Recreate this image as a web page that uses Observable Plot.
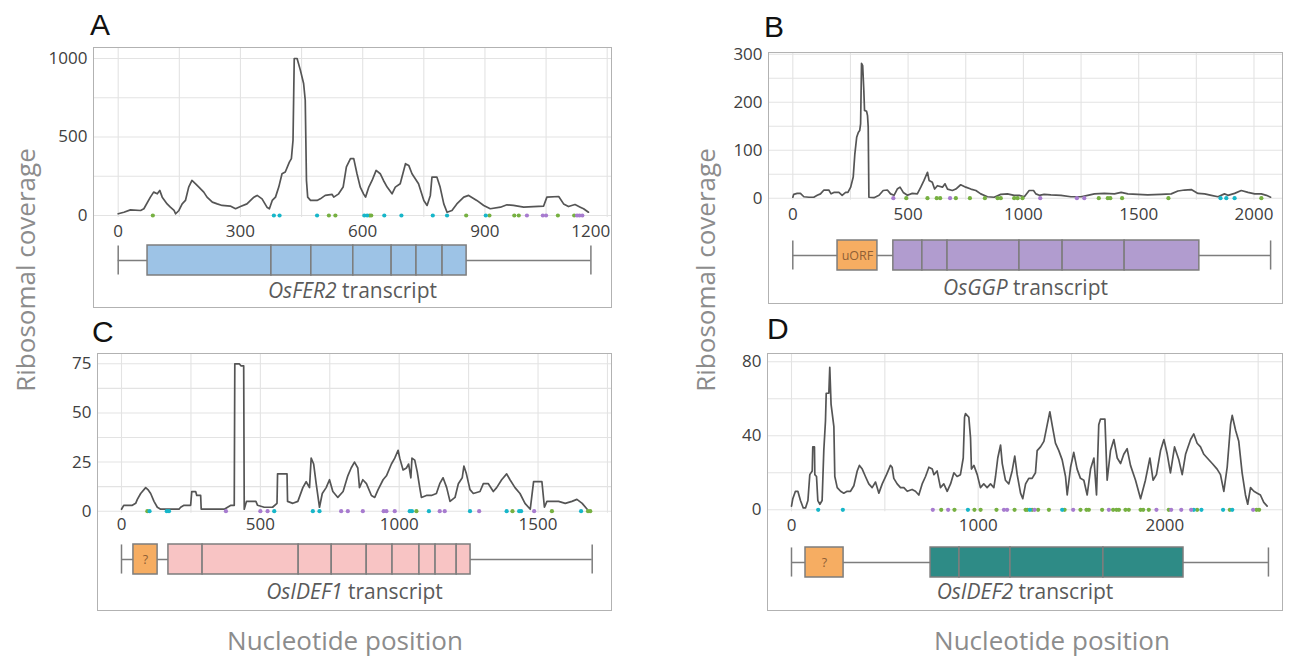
<!DOCTYPE html>
<html><head><meta charset="utf-8">
<script src="https://cdn.jsdelivr.net/npm/d3@7"></script>
<script src="https://cdn.jsdelivr.net/npm/@observablehq/plot@0.6"></script>
<style>
html,body{margin:0;padding:0;background:#fff;}
#root{position:relative;width:1290px;height:658px;overflow:hidden;font-family:"Open Sans",sans-serif;background:#fff;}
.abs{position:absolute;}
.box{position:absolute;border:1.5px solid #b2b2b2;box-sizing:border-box;pointer-events:none;}
.letter{position:absolute;font-family:"Liberation Sans",Arial,sans-serif;font-size:30px;line-height:30px;color:#111;}
.caption{position:absolute;text-align:center;font-size:21px;line-height:21px;color:#5a5a5a;white-space:nowrap;}
.ytitle{position:absolute;font-size:26px;line-height:26px;color:#8c8c8c;white-space:nowrap;transform:translate(-50%,-50%) rotate(-90deg);}
.xtitle{position:absolute;font-size:26px;line-height:26px;color:#8c8c8c;white-space:nowrap;transform:translate(-50%,-50%);}
</style></head>
<body><div id="root"></div>
<script>
// ---------------- DATA ----------------
// Read frames: F1 = green, F2 = cyan, F3 = purple dots
const frames = ["F1", "F2", "F3"];
const frameColors = ["#76b041", "#17b6c9", "#a77bcf"];

// OsFER2 (A)
const fer2Coverage = [[0,11],[14,21],[30,36],[55,32],[63,43],[79,117],[87,149],[96,138],[102,160],[108,117],[120,74],[128,53],[137,32],[141,11],[149,32],[157,74],[165,96],[173,181],[181,223],[190,202],[198,181],[210,149],[218,117],[231,85],[243,74],[255,64],[275,60],[288,43],[300,57],[316,74],[333,117],[341,128],[353,106],[365,53],[371,43],[378,96],[386,117],[394,181],[402,266],[410,277],[420,340],[425,362],[429,479],[432,1000],[439,1000],[447,926],[455,841],[459,734],[462,223],[465,117],[472,96],[488,96],[496,106],[508,128],[525,134],[529,117],[541,138],[552,181],[560,309],[570,362],[578,362],[586,266],[594,181],[602,138],[607,117],[615,181],[623,223],[633,287],[643,266],[651,223],[660,181],[672,138],[680,181],[692,202],[705,330],[713,319],[721,266],[737,202],[750,96],[758,64],[766,128],[770,245],[782,245],[790,181],[799,74],[807,21],[819,32],[831,74],[848,117],[860,128],[880,96],[897,64],[913,43],[938,53],[954,68],[970,64],[995,53],[1019,57],[1044,60],[1052,117],[1081,121],[1093,74],[1105,57],[1121,70],[1134,53],[1142,43],[1154,21]];
const fer2Green = [85,517,533,617,621,854,911,972,983,1079,1119];
const fer2Cyan = [382,396,488,604,611,653,695,772,807,902];
const fer2Purple = [1003,1042,1050,1126,1132,1139];
const fer2Length = 1160;
const fer2Cds = [72,376,474,577,671,732,796,855];
const fer2Uorf = [];

// OsGGP (B)
const ggpCoverage = [[0,2],[4,8],[19,10],[33,10],[48,3],[70,2],[91,2],[106,6],[120,9],[135,17],[156,17],[166,9],[178,12],[200,12],[214,6],[229,12],[239,12],[251,23],[262,44],[269,92],[277,127],[284,137],[290,141],[294,155],[298,281],[303,276],[306,245],[308,224],[311,183],[320,181],[324,172],[327,148],[330,2],[352,1],[374,6],[392,16],[410,17],[424,9],[439,6],[453,19],[465,23],[479,12],[497,6],[518,10],[540,9],[555,23],[569,37],[584,54],[591,37],[605,33],[615,19],[627,26],[649,23],[660,30],[671,19],[692,16],[707,19],[728,28],[750,23],[772,19],[794,16],[815,9],[844,3],[873,2],[902,8],[931,9],[960,6],[982,6],[1004,3],[1025,16],[1044,16],[1054,9],[1069,6],[1090,8],[1119,7],[1163,6],[1206,3],[1250,3],[1279,6],[1308,9],[1351,10],[1395,9],[1424,12],[1453,9],[1496,8],[1539,7],[1597,8],[1641,9],[1670,15],[1699,17],[1728,18],[1757,10],[1786,9],[1815,6],[1844,3],[1872,9],[1887,6],[1916,10],[1945,16],[1974,12],[2003,9],[2032,9],[2054,6],[2072,2]];
const ggpGreen = [492,584,624,639,707,768,833,888,902,960,975,996,1327,1366,1377,1428,1629,2032];
const ggpCyan = [1855,1880,1916];
const ggpPurple = [436,682,1073,1232,1264];
const ggpLength = 2072;
const ggpCds = [436,562,671,983,1170,1439,1763];
const ggpUorf = [{x1:194, x2:367, label:"uORF"}];

// OsIDEF1 (C)
const idef1Coverage = [[0,1],[8,3],[20,3],[39,3],[51,4],[57,6],[69,9],[87,12],[95,11],[105,9],[117,5],[129,2],[141,1],[207,1],[213,2],[225,3],[249,3],[253,10],[267,10],[271,8],[285,8],[287,1],[370,1],[382,2],[394,3],[406,3],[408,75],[424,75],[430,74],[440,74],[442,1],[450,5],[466,5],[484,5],[490,3],[514,2],[544,2],[560,4],[562,19],[596,19],[598,5],[617,4],[635,5],[653,12],[665,15],[677,12],[683,27],[692,24],[701,14],[713,2],[723,9],[737,12],[749,16],[761,10],[779,7],[798,10],[815,18],[827,22],[839,25],[851,22],[857,12],[869,16],[882,14],[900,8],[912,7],[924,11],[942,16],[954,18],[972,24],[984,27],[996,31],[1002,27],[1014,21],[1026,22],[1034,24],[1042,17],[1046,27],[1056,26],[1065,20],[1074,12],[1080,7],[1098,8],[1116,8],[1134,9],[1146,14],[1158,17],[1171,12],[1183,5],[1201,7],[1213,14],[1227,17],[1233,23],[1242,19],[1255,11],[1267,9],[1291,10],[1303,14],[1321,14],[1339,10],[1351,12],[1369,16],[1387,19],[1399,16],[1417,12],[1435,9],[1453,4],[1472,1],[1484,15],[1514,15],[1523,2],[1532,5],[1574,5],[1598,4],[1622,5],[1640,6],[1659,4],[1677,1]];
const idef1Green = [93,1062,1408,1550,1680,1688];
const idef1Cyan = [101,163,171,550,689,713,1038,1046,1107,1255,1387,1432,1439,1655];
const idef1Purple = [376,500,526,791,815,869,944,954,984,1146,1164,1288,1486];
const idef1Length = 1695;
const idef1Cds = [169,292,638,757,883,976,1073,1131,1207,1257];
const idef1Uorf = [{x1:43, x2:130, label:"?"}];

// OsIDEF2 (D)
const idef2Coverage = [[0,2],[7,6],[21,10],[34,10],[48,5],[63,1],[75,1],[88,5],[98,19],[111,21],[114,34],[123,34],[125,19],[134,18],[141,5],[152,3],[164,5],[173,32],[182,48],[186,63],[200,63],[205,77],[212,57],[227,45],[232,18],[245,12],[263,10],[280,9],[298,10],[316,10],[334,13],[352,21],[364,24],[379,22],[396,18],[414,14],[432,12],[450,15],[468,9],[486,14],[509,19],[530,24],[539,23],[548,17],[566,14],[584,12],[602,12],[620,10],[646,11],[664,10],[682,8],[700,14],[718,18],[736,23],[754,22],[763,19],[780,21],[798,12],[816,14],[834,10],[852,14],[870,20],[887,18],[905,19],[920,28],[927,50],[932,52],[950,50],[959,39],[964,22],[977,24],[995,19],[1012,12],[1030,14],[1048,12],[1066,14],[1084,12],[1093,18],[1105,28],[1120,35],[1129,25],[1146,16],[1164,14],[1182,21],[1196,29],[1209,19],[1227,9],[1239,6],[1254,14],[1271,17],[1289,17],[1307,20],[1316,32],[1334,34],[1352,37],[1370,46],[1384,53],[1396,46],[1414,36],[1432,32],[1450,27],[1468,18],[1477,8],[1495,23],[1512,31],[1530,22],[1548,17],[1566,16],[1584,8],[1602,22],[1620,28],[1634,8],[1646,46],[1655,49],[1679,49],[1691,16],[1709,32],[1727,38],[1745,28],[1763,25],[1780,30],[1798,33],[1816,24],[1843,16],[1870,6],[1896,16],[1920,28],[1937,16],[1955,19],[1977,32],[1995,38],[2013,30],[2030,20],[2052,34],[2075,27],[2093,19],[2111,30],[2138,38],[2155,41],[2173,36],[2191,34],[2209,30],[2227,28],[2254,25],[2280,22],[2298,19],[2316,10],[2334,23],[2352,46],[2361,51],[2379,43],[2396,37],[2414,20],[2432,8],[2444,3],[2459,12],[2477,10],[2495,9],[2512,8],[2530,4],[2548,2]];
const idef2Green = [802,873,980,1013,1098,1195,1254,1263,1289,1321,1379,1463,1548,1580,1593,1664,1723,1741,1754,1789,1807,1870,1884,1914,2021,2173,2348,2491,2505];
const idef2Cyan = [143,275,945,1277,1450,2155,2196,2312,2361];
const idef2Purple = [757,839,1138,1155,1302,1509,1700,1955,2034,2088,2141,2473];
const idef2Length = 2555;
const idef2Cds = [745,900,1173,1671,2100];
const idef2Uorf = [{x1:75, x2:279, label:"?"}];

// Tick labels
const ticksYA = [0,500,1000], ticksXA = [0,300,600,900,1200];
const ticksYB = [0,100,200,300], ticksXB = [0,500,1000,1500,2000];
const ticksYC = [0,25,50,75], ticksXC = [0,500,1000,1500];
const ticksYD = [0,40,80], ticksXD = [0,1000,2000];

// Texts
const geneNames = ["OsFER2","OsGGP","OsIDEF1","OsIDEF2"];
const panelLetters = ["A","B","C","D"];
const yTitle = "Ribosomal coverage";
const xTitle = "Nucleotide position";

// ---------------- LAYOUT ----------------
const layout = [
  {box:[93,47,612,308], x0:117.7, ppu:0.4075, y0:215, ypu:0.157, yStep:250, xStep:150, yTicks:ticksYA, xTicks:ticksXA, lastEnd:true, tickPad:7, geneY:260, capTop:280, fill:"#9dc3e6", letter:[90,10]},
  {box:[768,52,1283,304], x0:792.3, ppu:0.2306, y0:197.7, ypu:0.48, yStep:50, xStep:250, yTicks:ticksYB, xTicks:ticksXB, lastEnd:false, tickPad:8, geneY:255, capTop:277, fill:"#b19ccf", letter:[764,12]},
  {box:[97,353,612,611], x0:121, ppu:0.2777, y0:510.7, ypu:1.965, yStep:12.5, xStep:250, yTicks:ticksYC, xTicks:ticksXC, lastEnd:false, tickPad:5, geneY:559, capTop:581, fill:"#f8c4c4", letter:[92,317]},
  {box:[767,353,1283,611], x0:791, ppu:0.18667, y0:509.3, ypu:1.85, yStep:20, xStep:500, yTicks:ticksYD, xTicks:ticksXD, lastEnd:false, tickPad:7, geneY:562, capTop:581, fill:"#2e8b86", letter:[767,314]}
];
const datasets = [
  {cov:fer2Coverage, g:fer2Green, c:fer2Cyan, p:fer2Purple, len:fer2Length, cds:fer2Cds, uorf:fer2Uorf},
  {cov:ggpCoverage, g:ggpGreen, c:ggpCyan, p:ggpPurple, len:ggpLength, cds:ggpCds, uorf:ggpUorf},
  {cov:idef1Coverage, g:idef1Green, c:idef1Cyan, p:idef1Purple, len:idef1Length, cds:idef1Cds, uorf:idef1Uorf},
  {cov:idef2Coverage, g:idef2Green, c:idef2Cyan, p:idef2Purple, len:idef2Length, cds:idef2Cds, uorf:idef2Uorf}
];

const root = document.getElementById("root");
function place(el, left, top, width) {
  const d = document.createElement("div");
  d.className = "abs";
  d.style.left = left + "px"; d.style.top = top + "px";
  if (width != null) d.style.width = width + "px";
  d.appendChild(el);
  root.appendChild(d);
  return d;
}

const geneStroke = "#7d7d7d";
const fmt = d3.format("d");
const tickFont = 17;

layout.forEach((cfg, i) => {
  const ds = datasets[i];
  const [L, T, R, B] = cfg.box;
  const w = R - L;
  const gridBottom = cfg.y0 + 2;
  const xDom = [(L - cfg.x0) / cfg.ppu, (R - cfg.x0) / cfg.ppu];
  const yDom = [(cfg.y0 - gridBottom) / cfg.ypu, (cfg.y0 - T) / cfg.ypu];
  const ML = 70, MB = 30;
  const line = ds.cov.map(([x, y]) => ({x, y}));
  const dots = [
    ...ds.g.map(x => ({x, frame: frames[0]})),
    ...ds.c.map(x => ({x, frame: frames[1]})),
    ...ds.p.map(x => ({x, frame: frames[2]}))
  ];
  const yGrid = d3.range(0, yDom[1] + 1e-9, cfg.yStep);
  const xGrid = d3.range(0, xDom[1], cfg.xStep);
  const xMain = cfg.lastEnd ? cfg.xTicks.slice(0, -1) : cfg.xTicks;
  const marks = [
    Plot.gridY(yGrid, {stroke: "#e3e3e3", strokeOpacity: 1, strokeWidth: 1.1}),
    Plot.gridX(xGrid, {stroke: "#e3e3e3", strokeOpacity: 1, strokeWidth: 1.1}),
    Plot.axisY(cfg.yTicks, {tickSize: 0, tickPadding: 6, fontSize: tickFont, label: null, tickFormat: fmt}),
    Plot.axisX(xMain, {tickSize: 0, tickPadding: cfg.tickPad, fontSize: tickFont, label: null, tickFormat: fmt}),
    Plot.line(line, {x: "x", y: "y", stroke: "#555555", strokeWidth: 1.7}),
    Plot.dot(dots, {x: "x", y: 0, fill: "frame", r: 2.1, stroke: null})
  ];
  if (cfg.lastEnd) marks.push(Plot.axisX(cfg.xTicks.slice(-1), {tickSize: 0, tickPadding: cfg.tickPad, fontSize: tickFont, label: null, tickFormat: fmt, textAnchor: "end", dx: 3}));
  const cov = Plot.plot({
    width: w + ML, height: (gridBottom - T) + MB,
    marginLeft: ML, marginRight: 0, marginTop: 0, marginBottom: MB,
    x: {domain: xDom, axis: null}, y: {domain: yDom, axis: null},
    color: {domain: frames, range: frameColors},
    style: {background: "transparent", overflow: "visible", fontFamily: "Open Sans", color: "#404040"},
    marks
  });
  place(cov, L - ML, T, w + ML);

  // gene model
  const segs = d3.pairs(ds.cds).map(([x1, x2]) => ({x1, x2}));
  const H = 44;
  const gene = Plot.plot({
    width: w, height: H, marginLeft: 0, marginRight: 0, marginTop: 7, marginBottom: 7,
    x: {domain: xDom, axis: null}, y: {domain: [-1, 1], axis: null},
    style: {background: "transparent", overflow: "visible", fontFamily: "Open Sans"},
    marks: [
      Plot.ruleY([0], {x1: 0, x2: ds.len, stroke: geneStroke, strokeWidth: 1.5}),
      Plot.ruleX([0, ds.len], {y1: -0.97, y2: 0.97, stroke: geneStroke, strokeWidth: 1.5}),
      Plot.rect(segs, {x1: "x1", x2: "x2", y1: -1, y2: 1, fill: cfg.fill, stroke: geneStroke, strokeWidth: 1.5}),
      Plot.rect(ds.uorf, {x1: "x1", x2: "x2", y1: -1, y2: 1, fill: "#f6ad62", stroke: geneStroke, strokeWidth: 1.5}),
      Plot.text(ds.uorf, {x: d => (d.x1 + d.x2) / 2, y: 0, text: "label", fontSize: 12.5, fill: "#8f6036"})
    ]
  });
  place(gene, L, cfg.geneY - H / 2, w);

  // caption
  const cap = document.createElement("div");
  cap.className = "caption";
  cap.style.left = L + "px"; cap.style.width = w + "px"; cap.style.top = cfg.capTop + "px";
  const it = document.createElement("i"); it.textContent = geneNames[i];
  cap.appendChild(it); cap.appendChild(document.createTextNode(" transcript"));
  root.appendChild(cap);

  // box
  const bx = document.createElement("div");
  bx.className = "box";
  bx.style.left = L + "px"; bx.style.top = T + "px";
  bx.style.width = w + "px"; bx.style.height = (B - T) + "px";
  root.appendChild(bx);

  // letter
  const lt = document.createElement("div");
  lt.className = "letter";
  lt.style.left = cfg.letter[0] + "px"; lt.style.top = cfg.letter[1] + "px";
  lt.textContent = panelLetters[i];
  root.appendChild(lt);
});

// axis titles
[[25, 270], [705, 270]].forEach(([x, y]) => {
  const t = document.createElement("div");
  t.className = "ytitle"; t.style.left = x + "px"; t.style.top = y + "px";
  t.textContent = yTitle; root.appendChild(t);
});
[[345, 640], [1052, 640]].forEach(([x, y]) => {
  const t = document.createElement("div");
  t.className = "xtitle"; t.style.left = x + "px"; t.style.top = y + "px";
  t.textContent = xTitle; root.appendChild(t);
});
</script>
</body></html>
